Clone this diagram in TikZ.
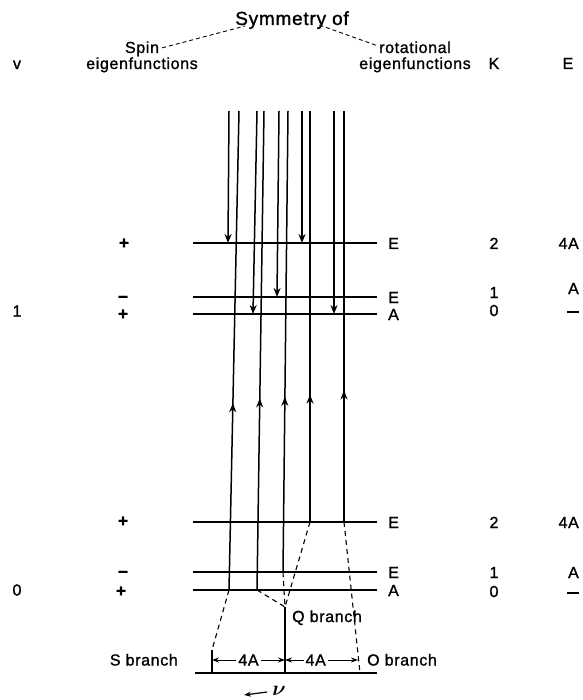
\documentclass[tikz,border=0pt]{standalone}
\usepackage{fontspec}
\setmainfont{Liberation Sans}[LetterSpace=4,FakeBold=1.2]
\usetikzlibrary{positioning,calc}
\usetikzlibrary{arrows.meta,decorations.markings}
\newcommand{\lblsize}{\fontsize{16}{18}\selectfont}
\newcommand{\ttlsize}{\fontsize{19}{22}\selectfont}
\tikzset{
	lvl/.style={draw=black,line width=1.2pt},
	trans/.style={draw=black,line width=1.5pt},
	downline/.style={trans,-{Stealth[length=9pt,width=7pt]}},
	upline/.style={trans,postaction={decorate},
		decoration={markings,mark=at position #1 with {\arrow{Stealth[length=9pt,width=7pt]}}}},
	brline/.style={draw=black,line width=1.1pt,dash pattern=on 5pt off 4pt},
	hdrline/.style={draw=black,line width=0.9pt,dash pattern=on 4pt off 3pt},
	dimline/.style={draw=black,line width=1pt,{Stealth[length=7pt,width=5pt]}-{Stealth[length=7pt,width=5pt]}},
	lab/.style={font=\lblsize,inner sep=0pt},
	sgn/.style={font=\fontsize{17}{19}\selectfont\bfseries,inner sep=0pt,anchor=base},
}

\begin{document}
\begin{tikzpicture}[x=1pt,y=-1pt]
	\useasboundingbox (0,0) rectangle (582,700);
	% header
	\node[lab,font=\ttlsize,anchor=base] (sym) at (292,25) {Symmetry of};
	\node[lab,anchor=base] (spin) at (142,53) {Spin};
	\node[lab,anchor=base] (eigS) at (142,69) {eigenfunctions};
	\node[lab,anchor=base] (rot) at (415,53) {rotational};
	\node[lab,anchor=base] (eigR) at (415,69) {eigenfunctions};
	\node[lab,anchor=base] (hv) at (17,69) {v};
	\node[lab,anchor=base] (hK) at (494,69) {K};
	\node[lab,anchor=base] (hE) at (568,69) {E};
	\draw[hdrline] ([xshift=3pt,yshift=1pt]spin.east) -- ([xshift=10pt,yshift=-1pt]sym.base west);
	\draw[hdrline] ($(sym.base west)!0.74!(sym.base east)$) -- ([xshift=-3pt,yshift=2pt]rot.west);
	% levels v=1
	\coordinate (u2w) at (193,243); \coordinate (u2e) at (377,243);
	\coordinate (u1w) at (193,297); \coordinate (u1e) at (377,297);
	\coordinate (u0w) at (193,314); \coordinate (u0e) at (377,314);
	\draw[lvl] (u2w) -- (u2e);
	\draw[lvl] (u1w) -- (u1e);
	\draw[lvl] (u0w) -- (u0e);
	% levels v=0
	\coordinate (l2w) at (193,522); \coordinate (l2e) at (377,522);
	\coordinate (l1w) at (193,572); \coordinate (l1e) at (377,572);
	\coordinate (l0w) at (193,590); \coordinate (l0e) at (377,590);
	\draw[lvl] (l2w) -- (l2e);
	\draw[lvl] (l1w) -- (l1e);
	\draw[lvl] (l0w) -- (l0e);
	% tops of the lines
	\coordinate (t1) at (229,111); \coordinate (t2) at (239,111);
	\coordinate (t3) at (257,111); \coordinate (t4) at (264,111);
	\coordinate (t5) at (279,111); \coordinate (t6) at (288,111);
	\coordinate (t7) at (302,111); \coordinate (t8) at (310,111);
	\coordinate (t9) at (334,111); \coordinate (t10) at (344,111);
	% downward
	\coordinate (d1) at (228,243); \coordinate (d2) at (253,314);
	\coordinate (d3) at (277,297); \coordinate (d4) at (302,243);
	\coordinate (d5) at (334,314);
	\draw[downline] (t1) -- (d1);
	\draw[downline] (t3) -- (d2);
	\draw[downline] (t5) -- (d3);
	\draw[downline] (t7) -- (d4);
	\draw[downline] (t9) -- (d5);
	% upward
	\coordinate (b1) at (229,590); \coordinate (b2) at (257,590);
	\coordinate (b3) at (283,572); \coordinate (b4) at (310,522);
	\coordinate (b5) at (344,522);
	\draw[upline=0.39] (b1) -- (t2);
	\draw[upline=0.40] (b2) -- (t4);
	\draw[upline=0.38] (b3) -- (t6);
	\draw[upline=0.31] (b4) -- (t8);
	\draw[upline=0.32] (b5) -- (t10);
	% branches
	\coordinate (qj) at (285,607);
	\coordinate (sTop) at (212,650); \coordinate (sBot) at (212,673);
	\coordinate (qBot) at (285,673); \coordinate (oBot) at (360,673);
	\coordinate (basew) at (195,673); \coordinate (basee) at (377,673);
	\draw[brline] (b1) -- (sTop);
	\draw[brline] (b2) -- (qj);
	\draw[brline] (b3) -- (qj);
	\draw[brline] (b4) -- (qj);
	\draw[brline] (b5) -- (oBot);
	\draw[trans] (sTop) -- (sBot);
	\draw[trans] (qj) -- (qBot);
	\draw[lvl] (basew) -- (basee);
	\coordinate (sM) at (212,660); \coordinate (qM) at (285,660); \coordinate (oM) at (358,660);
	\draw[dimline] (sM) -- node[lab,fill=white,inner sep=2pt] (gapS) {4A} (qM);
	\draw[dimline] (qM) -- node[lab,fill=white,inner sep=2pt,pos=0.42] (gapO) {4A} (oM);
	\node[lab,anchor=base west] (qlab) at (292,622) {Q branch};
	\node[lab,anchor=base east] (slab) at (178,665.5) {S branch};
	\node[lab,anchor=base west] (olab) at (367,665.5) {O branch};
	\node[lab,font=\fontsize{21}{24}\selectfont\boldmath] (nu) at (279,691) {$\nu$};
	\coordinate (nuTip) at (244,695);
	\draw[trans,line width=1.2pt,-{Stealth[length=7pt,width=5pt]}] ([xshift=-5pt,yshift=-1pt]nu.west) -- (nuTip);
	% spin symmetry and v
	\node[sgn] (pU2) at (124,248.5) {+};
	\node[sgn] (mU1) at (123,302.5) {\symbol{"2212}};
	\node[sgn] (pU0) at (123,319.5) {+};
	\node[sgn] (pL2) at (123,526.5) {+};
	\node[sgn] (mL1) at (123,577.5) {\symbol{"2212}};
	\node[sgn] (pL0) at (121,596.5) {+};
	\node[lab,anchor=base] (vU) at (17,316.5) {1};
	\node[lab,anchor=base] (vL) at (17,595.5) {0};
	% rotational symmetry
	\node[lab,anchor=base west] (rU2) at (388,249) {E};
	\node[lab,anchor=base west] (rU1) at (388,303) {E};
	\node[lab,anchor=base west] (rU0) at (388,320) {A};
	\node[lab,anchor=base west] (rL2) at (388,528) {E};
	\node[lab,anchor=base west] (rL1) at (388,578) {E};
	\node[lab,anchor=base west] (rL0) at (388,596) {A};
	% K
	\node[lab,anchor=base] (kU2) at (494,249) {2};
	\node[lab,anchor=base] (kU1) at (494,298) {1};
	\node[lab,anchor=base] (kU0) at (494,316) {0};
	\node[lab,anchor=base] (kL2) at (494,528) {2};
	\node[lab,anchor=base] (kL1) at (494,578) {1};
	\node[lab,anchor=base] (kL0) at (494,597) {0};
	% E
	\node[lab,anchor=base east] (eU2) at (579,249) {4A};
	\node[lab,anchor=base east] (eU1) at (579,294) {A};
	\node[lab] (eU0) at (573,312) {\rule{12pt}{1.4pt}};
	\node[lab,anchor=base east] (eL2) at (579,528) {4A};
	\node[lab,anchor=base east] (eL1) at (579,578) {A};
	\node[lab] (eL0) at (573,593) {\rule{12pt}{1.4pt}};
\end{tikzpicture}
\end{document}
